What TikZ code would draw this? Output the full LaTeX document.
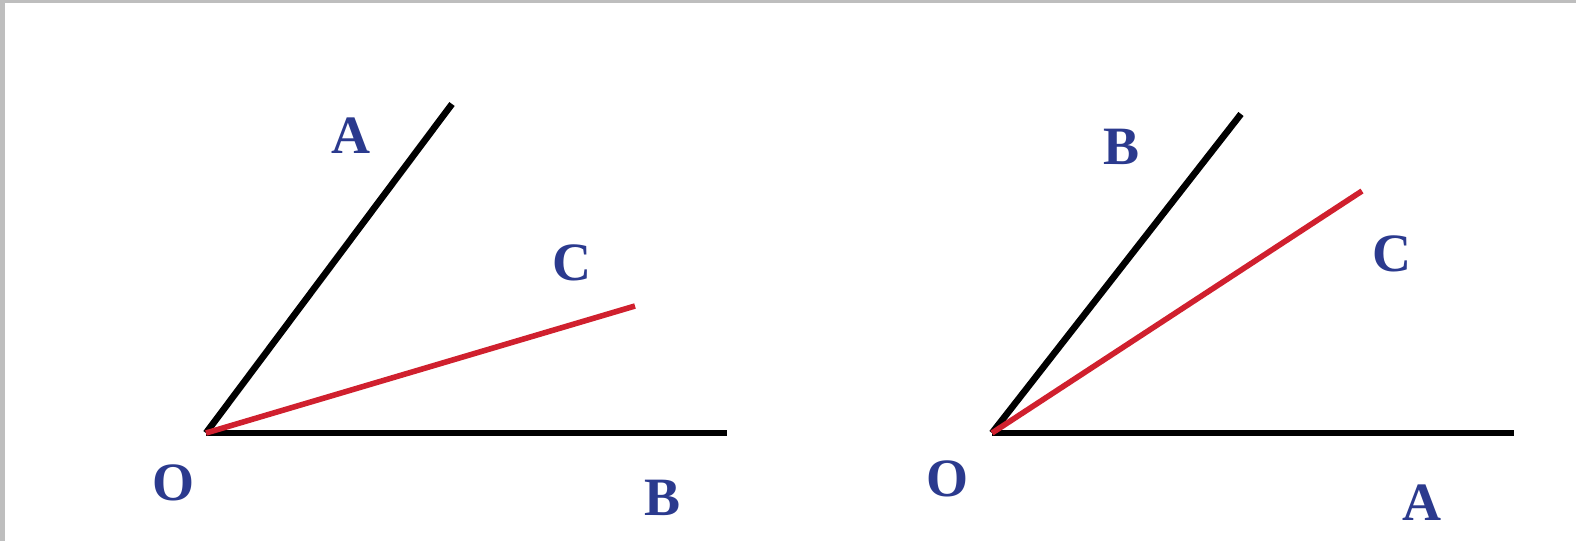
\documentclass[tikz,border=0pt]{standalone}
\usepackage{fontspec}
\setmainfont{Liberation Serif}[BoldFont={Liberation Serif Bold}]
\newfontfamily\lblfont{Liberation Serif Bold}
\definecolor{lblblue}{HTML}{2B3A8E}
\definecolor{rayred}{HTML}{D0202E}
\definecolor{frame}{HTML}{BEBEBE}
\tikzset{
  lbl/.style={text=lblblue, font=\lblfont\fontsize{27}{29}\selectfont, inner sep=0pt},
  blackray/.style={line width=3.3pt, black},
  redray/.style={line width=2.8pt, rayred},
}
\begin{document}
\begin{tikzpicture}[x=0.5pt,y=-0.5pt]
\useasboundingbox (0,0) rectangle (1576,541);
\fill[frame] (0,0) rectangle (1576,3);
\fill[frame] (0,0) rectangle (5,541);
% left figure
\coordinate (O1) at (206,433);
\coordinate (A1) at (452,104);
\coordinate (B1) at (727,433);
\coordinate (C1) at (635,306);
\draw[blackray] (O1) -- (A1);
\draw[blackray] (O1) -- (B1);
\draw[redray] (O1) -- (C1);
\node[lbl] (lA1) at (351,136) {A};
\node[lbl] (lC1) at (572,263) {C};
\node[lbl] (lO1) at (174,483) {O};
\node[lbl] (lB1) at (663,498) {B};
% right figure
\coordinate (O2) at (992,433);
\coordinate (B2) at (1241,114);
\coordinate (A2) at (1514,433);
\coordinate (C2) at (1362,191);
\draw[blackray] (O2) -- (B2);
\draw[blackray] (O2) -- (A2);
\draw[redray] (O2) -- (C2);
\node[lbl] (lB2) at (1122,147) {B};
\node[lbl] (lC2) at (1392,254) {C};
\node[lbl] (lO2) at (947,479) {O};
\node[lbl] (lA2) at (1422,503) {A};
\end{tikzpicture}
\end{document}
